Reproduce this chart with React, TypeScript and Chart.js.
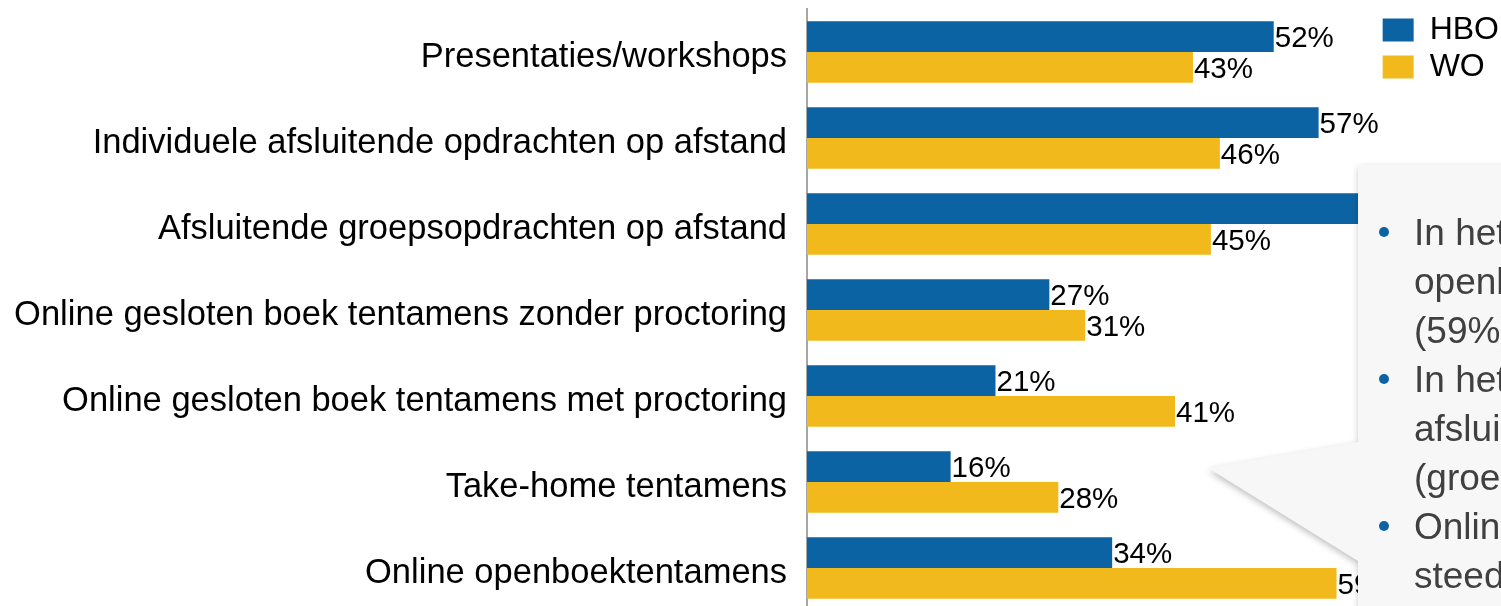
import React, { useEffect, useRef } from 'react';
import { Chart, registerables } from 'chart.js';

Chart.register(...registerables);

const categories = [
  'Presentaties/workshops',
  'Individuele afsluitende opdrachten op afstand',
  'Afsluitende groepsopdrachten op afstand',
  'Online gesloten boek tentamens zonder proctoring',
  'Online gesloten boek tentamens met proctoring',
  'Take-home tentamens',
  'Online openboektentamens',
];
const seriesNames = ['HBO', 'WO'];
const hboValues = [52, 57, 62, 27, 21, 16, 34];
const woValues = [43, 46, 45, 31, 41, 28, 59];

const calloutLines = [
  'In het WO worden vaker online',
  'openboektentamens ingezet',
  '(59%) dan in het HBO (34%).',
  'In het HBO worden vaker',
  'afsluitende opdrachten ingezet',
  '(groepsopdrachten en individueel).',
  'Online tentamens met proctoring',
  'steeds vaker in het WO.',
];
const calloutBullets = [true, false, false, true, false, false, true, false];

const BLUE = '#0c63a4';
const YELLOW = '#f2b91c';
const FONT = '"Liberation Sans", Arial, sans-serif';

const valueLabels = {
  id: 'valueLabels',
  afterDatasetsDraw(chart: any) {
    const ctx = chart.ctx;
    ctx.save();
    ctx.font = `29.5px ${FONT}`;
    ctx.fillStyle = '#000';
    ctx.textAlign = 'left';
    ctx.textBaseline = 'middle';
    chart.data.datasets.forEach((ds: any, di: number) => {
      const meta = chart.getDatasetMeta(di);
      meta.data.forEach((bar: any, i: number) => {
        ctx.fillText(`${ds.data[i]}%`, bar.x + 1, bar.y + 2);
      });
    });
    ctx.restore();
  },
};

const callout = {
  id: 'callout',
  afterDraw(chart: any) {
    const ctx = chart.ctx;
    const W = chart.width;
    ctx.save();
    ctx.beginPath();
    ctx.moveTo(1358, 165);
    ctx.lineTo(W + 30, 165);
    ctx.lineTo(W + 30, 680);
    ctx.lineTo(1358, 680);
    ctx.lineTo(1358, 561);
    ctx.lineTo(1208, 468);
    ctx.lineTo(1358, 442);
    ctx.closePath();
    ctx.shadowColor = 'rgba(0,0,0,0.28)';
    ctx.shadowBlur = 7;
    ctx.shadowOffsetX = 1;
    ctx.shadowOffsetY = 3;
    ctx.fillStyle = '#f7f7f7';
    ctx.fill();
    ctx.restore();

    ctx.save();
    ctx.beginPath();
    ctx.rect(1358, 165, W, 700);
    ctx.clip();
    ctx.font = `37px ${FONT}`;
    ctx.textAlign = 'left';
    ctx.textBaseline = 'alphabetic';
    const base0 = 245;
    const step = 49;
    calloutLines.forEach((line, i) => {
      const by = base0 + i * step;
      if (calloutBullets[i]) {
        ctx.fillStyle = BLUE;
        ctx.beginPath();
        ctx.arc(1384, by - 13, 5, 0, Math.PI * 2);
        ctx.fill();
      }
      ctx.fillStyle = '#404040';
      ctx.fillText(line, 1414, by);
    });
    ctx.restore();
  },
};

export default function App() {
  const ref = useRef<HTMLCanvasElement | null>(null);

  useEffect(() => {
    if (!ref.current) return;
    const chart = new Chart(ref.current, {
      type: 'bar',
      data: {
        labels: categories,
        datasets: [
          {
            label: seriesNames[0],
            data: hboValues,
            backgroundColor: BLUE,
            borderWidth: 0,
            barPercentage: 1,
            categoryPercentage: 0.717,
          },
          {
            label: seriesNames[1],
            data: woValues,
            backgroundColor: YELLOW,
            borderWidth: 0,
            barPercentage: 1,
            categoryPercentage: 0.717,
          },
        ],
      },
      options: {
        indexAxis: 'y',
        responsive: false,
        animation: false,
        devicePixelRatio: 1,
        layout: { padding: { top: 9, right: -8, bottom: 0, left: 0 } },
        plugins: {
          legend: {
            position: 'right',
            align: 'start',
            labels: {
              boxWidth: 31,
              boxHeight: 23,
              padding: 5,
              color: '#000',
              font: { family: FONT, size: 32 },
            },
          },
          tooltip: { enabled: false },
        },
        scales: {
          x: {
            min: 0,
            max: 63.58,
            display: false,
            grid: { display: false },
          },
          y: {
            grid: { display: false, drawTicks: false },
            border: { display: true, color: '#a6a6a6', width: 2 },
            ticks: {
              color: '#000',
              padding: 20,
              labelOffset: 5,
              font: { family: FONT, size: 34.5 },
            },
            afterFit: (scale: any) => {
              scale.width = 807;
              scale.paddingTop = 0;
              scale.paddingBottom = 0;
            },
          },
        },
      },
      plugins: [valueLabels, callout],
    } as any);
    return () => chart.destroy();
  }, []);

  return (
    <div
      style={{
        position: 'fixed',
        left: 0,
        top: 0,
        width: 1501,
        height: 606,
        overflow: 'hidden',
        background: '#fff',
      }}
    >
      <canvas ref={ref} width={1501} height={611} style={{ display: 'block' }} />
    </div>
  );
}
